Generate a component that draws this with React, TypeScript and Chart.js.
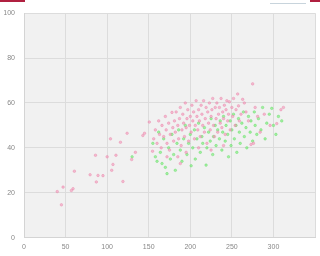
import React, { useEffect, useRef } from "react";
import { Chart, registerables } from "chart.js";

Chart.register(...registerables);

const xTicks = [0, 50, 100, 150, 200, 250, 300, 350];
const yTicks = [0, 20, 40, 60, 80, 100];

const pinkPoints: [number, number][] = [
  [40, 20.5], [45, 14.6], [47, 22.5], [57, 21], [59, 21.8], [60.6, 29.6], [79.5, 28], [87, 24.8],
  [86, 36.7], [89, 27.7], [95, 27.6], [100, 36], [104, 44], [105.5, 30], [107, 32.6], [110.6, 36.7],
  [116, 42.5], [119, 25], [124, 46.5], [129.5, 34.8], [134, 38], [143, 45.5], [145, 46.5], [150.7, 51.5],
  [154.6, 38.5],
  [156, 44], [158, 48], [160, 42], [162, 52], [163, 46], [165, 40], [166, 50], [168, 45], [170, 54],
  [171, 48], [172, 42], [174, 51], [175, 39], [176, 46], [178, 55.8], [179, 49], [180, 43], [181, 52],
  [182, 47], [183, 56], [185, 50], [186, 44], [187, 53], [188, 58], [189, 41], [190, 48], [191, 55],
  [192, 51], [193, 45], [194, 60], [195, 49], [196, 53], [197, 57], [198, 43], [199, 50], [200, 54],
  [201, 47], [202, 59], [203, 52], [204, 56], [205, 44], [206, 50], [207, 61], [208, 54], [209, 48],
  [210, 57], [211, 52], [212, 45], [213, 59], [214, 55], [215, 50], [216, 61], [217, 47], [218, 53],
  [219, 58], [220, 42], [221, 56], [222, 51], [223, 60], [224, 48], [225, 54], [226, 57], [227, 62],
  [228, 50], [229, 45], [230, 58], [231, 53], [232, 60], [233, 47], [234, 55], [235, 58], [236, 51],
  [237, 62], [238, 49], [239, 56], [240, 53], [241, 59], [242, 46], [243, 57], [244, 61], [245, 52],
  [246, 55], [247, 60.5], [248, 48], [250, 58], [251, 54], [252, 62], [254, 50], [255, 57], [257, 64],
  [258, 58.7], [259, 52], [261, 55], [263, 61.6], [265, 60], [267, 56], [270, 52], [273, 41.5],
  [275, 68.5], [276, 42], [278, 58], [281, 54], [284, 47], [289, 55], [296, 50], [304, 50.8], [309, 57],
  [312, 58], [185, 36], [195, 38], [210, 40], [225, 39], [240, 41], [172, 36], [188, 33],
];

const greenPoints: [number, number][] = [
  [155, 42], [158, 36], [160, 34], [162, 47], [164, 38], [166, 33], [168, 44], [170, 31.3], [172, 28.5],
  [174, 40], [176, 35], [178, 46], [180, 37], [182, 30], [184, 42], [186, 48], [188, 39], [190, 34],
  [192, 44], [194, 50], [196, 37], [198, 42], [200, 46], [201, 32], [203, 40], [205, 48], [206, 35],
  [208, 44], [210, 51], [212, 38], [214, 45], [215, 42], [217, 49], [219, 32.3], [220, 40], [222, 47],
  [224, 43], [225, 53], [227, 37], [228, 45], [230, 50], [231, 41], [233, 48], [235, 44], [236, 52],
  [238, 39], [239, 47], [240, 54], [242, 43], [243, 50], [245, 46], [246, 36], [248, 52], [249, 41],
  [250, 48], [252, 55], [253, 44], [255, 50], [256, 38], [258, 53], [259, 47], [260, 42], [262, 51],
  [264, 56], [265, 45], [267, 49], [268, 40], [270, 54], [272, 47], [273, 52], [275, 43], [277, 56],
  [278, 50], [280, 46], [282, 53], [285, 48], [287, 58], [290, 44], [292, 51], [295, 55], [298, 57.6],
  [300, 50], [303, 46], [306, 54], [310, 52], [130, 36],
];

const plotBg = {
  id: "plotBg",
  beforeDraw(chart: any) {
    const { ctx, chartArea } = chart;
    ctx.save();
    ctx.fillStyle = "#f1f1f1";
    ctx.fillRect(chartArea.left, chartArea.top, chartArea.right - chartArea.left, chartArea.bottom - chartArea.top);
    ctx.restore();
  },
};

export default function App() {
  const ref = useRef<HTMLCanvasElement>(null);
  useEffect(() => {
    document.body.style.margin = "0";
    const chart = new Chart(ref.current!, {
      type: "scatter",
      data: {
        datasets: [
          {
            data: pinkPoints.map(([x, y]) => ({ x, y })),
            backgroundColor: "rgba(244,150,185,0.6)",
            borderColor: "rgba(232,120,160,0.7)",
            borderWidth: 0.5,
            pointRadius: 1.3,
          },
          {
            data: greenPoints.map(([x, y]) => ({ x, y })),
            backgroundColor: "rgba(120,238,120,0.65)",
            borderColor: "rgba(90,215,90,0.7)",
            borderWidth: 0.5,
            pointRadius: 1.3,
          },
        ],
      },
      options: {
        animation: false,
        responsive: false,
        maintainAspectRatio: false,
        layout: { padding: { top: 0, right: 1, left: 4, bottom: 0 } },
        plugins: { legend: { display: false }, tooltip: { enabled: false } },
        scales: {
          x: {
            type: "linear",
            min: xTicks[0],
            max: xTicks[xTicks.length - 1],
            afterBuildTicks: (s: any) => { s.ticks = xTicks.map((v) => ({ value: v })); },
            ticks: {
              padding: 5,
              color: "#888",
              font: { size: 7, family: "Liberation Sans" },
              callback: (v: any) => (v === 350 ? "" : String(v)),
              maxRotation: 0,
            },
            grid: { color: "#dcdcdc", drawTicks: false },
            border: { color: "#d4d4d4" },
          },
          y: {
            min: yTicks[0],
            max: yTicks[yTicks.length - 1],
            afterBuildTicks: (s: any) => { s.ticks = yTicks.map((v) => ({ value: v })); },
            afterFit: (s: any) => { s.width = 20; },
            ticks: { padding: 9, color: "#888", font: { size: 7, family: "Liberation Sans" } },
            grid: { color: "#dcdcdc", drawTicks: false },
            border: { color: "#d4d4d4" },
          },
        },
      },
      plugins: [plotBg],
    });
    return () => chart.destroy();
  }, []);
  return (
    <div style={{ position: "absolute", left: 0, top: 0, width: 320, height: 256, background: "#fff" }}>
      <canvas ref={ref} width={320} height={256} style={{ display: "block" }} />
      <div style={{ position: "absolute", left: 0, top: 0, width: 25, height: 2, background: "#b02040" }} />
      <div style={{ position: "absolute", left: 270, top: 0, width: 36, height: 3, borderBottom: "1px solid #c8d4dc" }} />
      <div style={{ position: "absolute", left: 310, top: 0, width: 10, height: 2, background: "#b02040" }} />
    </div>
  );
}
